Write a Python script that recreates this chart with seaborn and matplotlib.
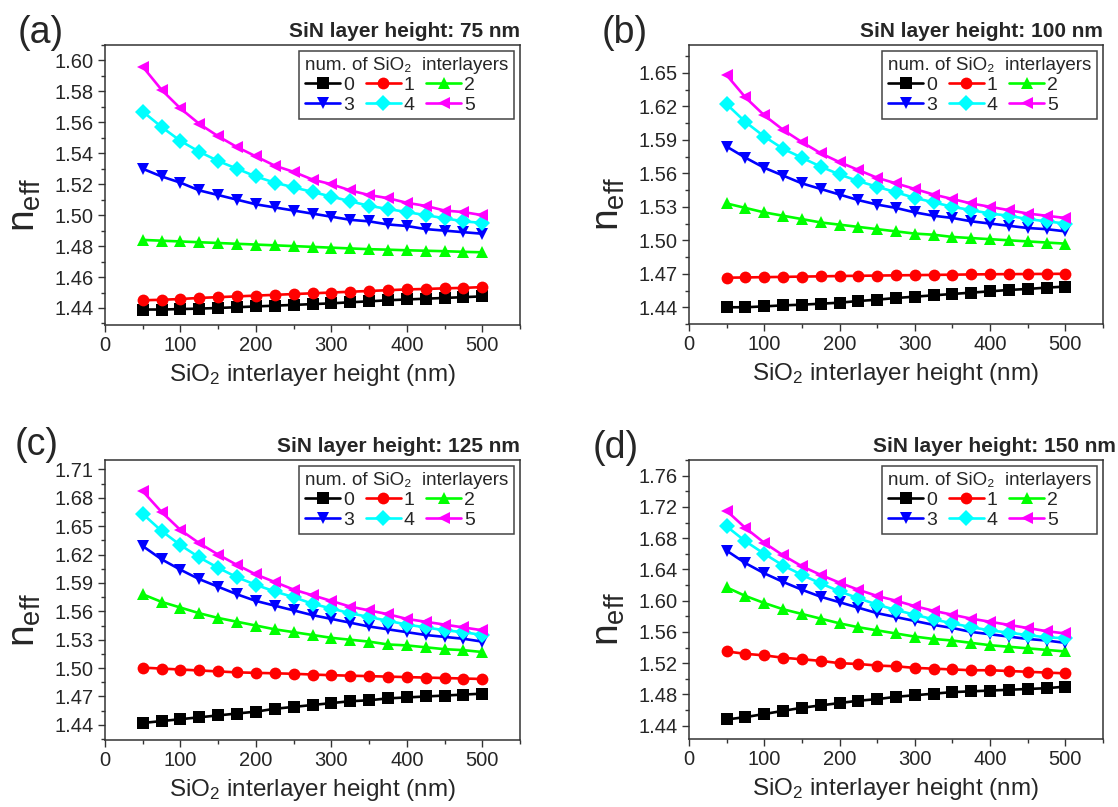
import numpy as np
import pandas as pd
import seaborn as sns
import matplotlib.pyplot as plt
from matplotlib.lines import Line2D
from matplotlib.ticker import MultipleLocator, AutoMinorLocator, FormatStrFormatter

# SiO2 interlayer height (nm)
x_nm = [50, 75, 100, 125, 150, 175, 200, 225, 250, 275,
        300, 325, 350, 375, 400, 425, 450, 475, 500]

# (a) SiN layer height 75 nm
h75_n0 = [1.439, 1.439, 1.4393, 1.4396, 1.440, 1.4405, 1.441, 1.4415, 1.442, 1.4425,
          1.443, 1.4437, 1.4443, 1.445, 1.4455, 1.446, 1.4465, 1.447, 1.4475]
h75_n1 = [1.445, 1.4453, 1.4458, 1.4465, 1.447, 1.4475, 1.448, 1.4485, 1.449, 1.4495,
          1.450, 1.4505, 1.451, 1.4515, 1.452, 1.4523, 1.4527, 1.453, 1.4535]
h75_n2 = [1.484, 1.4835, 1.483, 1.4825, 1.482, 1.4815, 1.481, 1.4805, 1.480, 1.4795,
          1.479, 1.4785, 1.478, 1.4777, 1.4773, 1.477, 1.4767, 1.4763, 1.476]
h75_n3 = [1.530, 1.525, 1.521, 1.516, 1.513, 1.510, 1.507, 1.505, 1.503, 1.501,
          1.499, 1.497, 1.496, 1.494, 1.493, 1.491, 1.490, 1.489, 1.488]
h75_n4 = [1.567, 1.557, 1.548, 1.541, 1.535, 1.530, 1.525, 1.521, 1.518, 1.515,
          1.512, 1.509, 1.506, 1.504, 1.502, 1.500, 1.498, 1.496, 1.495]
h75_n5 = [1.596, 1.581, 1.569, 1.559, 1.551, 1.544, 1.538, 1.532, 1.528, 1.523,
          1.520, 1.516, 1.513, 1.511, 1.508, 1.506, 1.503, 1.502, 1.500]

# (b) SiN layer height 100 nm
h100_n0 = [1.440, 1.440, 1.4408, 1.4417, 1.4423, 1.4432, 1.4441, 1.4456, 1.4468, 1.4483,
           1.4495, 1.4507, 1.4519, 1.4531, 1.4543, 1.4555, 1.4564, 1.4576, 1.4585]
h100_n1 = [1.4665, 1.4667, 1.467, 1.4672, 1.4675, 1.4677, 1.468, 1.4682, 1.4684, 1.4686,
           1.4688, 1.469, 1.4692, 1.4694, 1.4696, 1.4697, 1.4698, 1.4699, 1.470]
h100_n2 = [1.533, 1.529, 1.525, 1.522, 1.519, 1.516, 1.514, 1.512, 1.510, 1.508,
           1.506, 1.505, 1.503, 1.502, 1.501, 1.500, 1.499, 1.498, 1.497]
h100_n3 = [1.584, 1.574, 1.565, 1.558, 1.551, 1.546, 1.541, 1.536, 1.532, 1.529,
           1.525, 1.522, 1.520, 1.517, 1.515, 1.513, 1.511, 1.510, 1.508]
h100_n4 = [1.622, 1.606, 1.593, 1.582, 1.574, 1.566, 1.559, 1.553, 1.548, 1.543,
           1.538, 1.534, 1.530, 1.527, 1.524, 1.522, 1.519, 1.517, 1.515]
h100_n5 = [1.648, 1.628, 1.612, 1.599, 1.588, 1.578, 1.570, 1.563, 1.556, 1.551,
           1.546, 1.541, 1.537, 1.533, 1.530, 1.527, 1.524, 1.522, 1.520]

# (c) SiN layer height 125 nm
h125_n0 = [1.442, 1.444, 1.446, 1.448, 1.450, 1.452, 1.454, 1.457, 1.459, 1.461,
           1.463, 1.465, 1.466, 1.468, 1.469, 1.470, 1.471, 1.472, 1.473]
h125_n1 = [1.5005, 1.4995, 1.4985, 1.4975, 1.4965, 1.4955, 1.495, 1.4945, 1.494, 1.4932,
           1.4925, 1.492, 1.4915, 1.491, 1.4905, 1.490, 1.4895, 1.489, 1.4885]
h125_n2 = [1.578, 1.570, 1.564, 1.558, 1.553, 1.549, 1.545, 1.541, 1.538, 1.535,
           1.532, 1.530, 1.528, 1.525, 1.524, 1.522, 1.520, 1.519, 1.517]
h125_n3 = [1.629, 1.615, 1.604, 1.594, 1.586, 1.578, 1.571, 1.566, 1.561, 1.556,
           1.552, 1.548, 1.544, 1.541, 1.538, 1.535, 1.533, 1.531, 1.528]
h125_n4 = [1.663, 1.645, 1.630, 1.617, 1.606, 1.596, 1.588, 1.581, 1.575, 1.568,
           1.563, 1.558, 1.554, 1.550, 1.546, 1.543, 1.540, 1.538, 1.535]
h125_n5 = [1.687, 1.665, 1.646, 1.632, 1.620, 1.609, 1.599, 1.591, 1.583, 1.577,
           1.571, 1.565, 1.561, 1.557, 1.552, 1.549, 1.546, 1.543, 1.540]

# (d) SiN layer height 150 nm
h150_n0 = [1.448, 1.451, 1.455, 1.459, 1.463, 1.466, 1.469, 1.472, 1.474, 1.477,
           1.479, 1.481, 1.483, 1.484, 1.485, 1.486, 1.487, 1.488, 1.490]
h150_n1 = [1.535, 1.532, 1.530, 1.527, 1.525, 1.523, 1.520, 1.519, 1.517, 1.516,
           1.514, 1.513, 1.512, 1.511, 1.511, 1.510, 1.509, 1.508, 1.507]
h150_n2 = [1.617, 1.606, 1.597, 1.589, 1.583, 1.577, 1.571, 1.566, 1.562, 1.558,
           1.554, 1.551, 1.549, 1.546, 1.543, 1.541, 1.539, 1.537, 1.535]
h150_n3 = [1.664, 1.648, 1.635, 1.624, 1.614, 1.605, 1.598, 1.591, 1.584, 1.579,
           1.574, 1.569, 1.565, 1.560, 1.557, 1.554, 1.551, 1.549, 1.546]
h150_n4 = [1.695, 1.676, 1.660, 1.645, 1.633, 1.622, 1.612, 1.603, 1.595, 1.588,
           1.582, 1.576, 1.571, 1.566, 1.562, 1.559, 1.556, 1.553, 1.552]
h150_n5 = [1.715, 1.693, 1.674, 1.658, 1.644, 1.633, 1.623, 1.614, 1.606, 1.600,
           1.593, 1.587, 1.582, 1.577, 1.573, 1.569, 1.565, 1.561, 1.558]

levels = ["0", "1", "2", "3", "4", "5"]
colors = ["#000000", "#ff0000", "#00ff00", "#0000ff", "#00ffff", "#ff00ff"]
markers = ["s", "o", "^", "v", "D", "<"]

panels = [
    ("(a)", "SiN layer height: 75 nm", [h75_n0, h75_n1, h75_n2, h75_n3, h75_n4, h75_n5]),
    ("(b)", "SiN layer height: 100 nm", [h100_n0, h100_n1, h100_n2, h100_n3, h100_n4, h100_n5]),
    ("(c)", "SiN layer height: 125 nm", [h125_n0, h125_n1, h125_n2, h125_n3, h125_n4, h125_n5]),
    ("(d)", "SiN layer height: 150 nm", [h150_n0, h150_n1, h150_n2, h150_n3, h150_n4, h150_n5]),
]

# y axis setup per panel: (ylim, major step)
y_setup = [((1.429, 1.610), 0.02), ((1.425, 1.675), 0.03),
           ((1.424, 1.720), 0.03), ((1.423, 1.780), 0.04)]

# axes rectangles in pixels (left, top, right, bottom) on a 1118x807 canvas
W, H = 1118, 807
rects_px = [(105, 45, 520, 325), (689, 45, 1103, 324),
            (105, 460, 520, 740), (689, 460, 1103, 739)]
label_pos = [(0.0367, 0.959), (0.559, 0.959), (0.033, 0.449), (0.551, 0.445)]
title_dx = [0, 0, 0, 9]

sns.set_style("ticks")
plt.rcParams["font.family"] = ["Liberation Sans", "DejaVu Sans"]
plt.rcParams["mathtext.default"] = "regular"

fig = plt.figure(figsize=(W / 100, H / 100), dpi=100)
spine_col = "#333333"
msize, lw = 8.5, 1.9

for i, (tag, title, series) in enumerate(panels):
    l, t, r, b = rects_px[i]
    ax = fig.add_axes([l / W, 1 - b / H, (r - l) / W, (b - t) / H])

    df = pd.DataFrame({
        "x": np.tile(x_nm, len(levels)),
        "n": np.concatenate(series),
        "num": np.repeat(levels, len(x_nm)),
    })
    sns.lineplot(data=df, x="x", y="n", hue="num", style="num",
                 hue_order=levels, style_order=levels,
                 palette=dict(zip(levels, colors)),
                 markers=dict(zip(levels, markers)), dashes=False,
                 markersize=msize, markeredgewidth=0, linewidth=lw,
                 legend=False, ax=ax)

    (y0, y1), step = y_setup[i]
    ax.set_xlim(0, 550)
    ax.set_ylim(y0, y1)
    ax.xaxis.set_major_locator(MultipleLocator(100))
    ax.xaxis.set_minor_locator(AutoMinorLocator(2))
    ax.yaxis.set_major_locator(MultipleLocator(step))
    ax.yaxis.set_minor_locator(AutoMinorLocator(2))
    ax.yaxis.set_major_formatter(FormatStrFormatter("%.2f"))
    ax.tick_params(which="major", direction="out", length=5, width=1,
                   color=spine_col, labelsize=14.5, pad=3)
    ax.tick_params(which="minor", direction="out", length=3, width=1, color=spine_col)
    for sp in ax.spines.values():
        sp.set_color(spine_col)
        sp.set_linewidth(1.1)

    ax.set_xlabel("SiO$_2$ interlayer height (nm)", fontsize=17.5, labelpad=5)
    ax.set_ylabel("$n_{eff}$", fontsize=28)
    ax.yaxis.set_label_coords(-0.15, 0.43)

    ax.annotate(title, xy=(1, 1), xycoords="axes fraction",
                xytext=(title_dx[i], 6), textcoords="offset points",
                ha="right", va="baseline", fontsize=15, fontweight="bold")

    handles = [Line2D([], [], color=c, marker=m, markersize=msize, markeredgewidth=0,
                      linewidth=lw) for c, m in zip(colors, markers)]
    order = [0, 3, 1, 4, 2, 5]
    leg = ax.legend([handles[k] for k in order], [levels[k] for k in order],
                    title="num. of SiO\u2082  interlayers", ncol=3,
                    loc="upper right", borderaxespad=0.3, fontsize=14,
                    title_fontsize=13.5, handlelength=1.8, handletextpad=0.15,
                    columnspacing=0.6, labelspacing=0.12, borderpad=0.3,
                    fancybox=False, framealpha=1, alignment="left")
    leg.get_frame().set_edgecolor("#444444")
    leg.get_frame().set_linewidth(1.1)

    fig.text(label_pos[i][0], label_pos[i][1], tag, fontsize=27,
             ha="center", va="center")

fig.savefig("out.png", dpi=100)
